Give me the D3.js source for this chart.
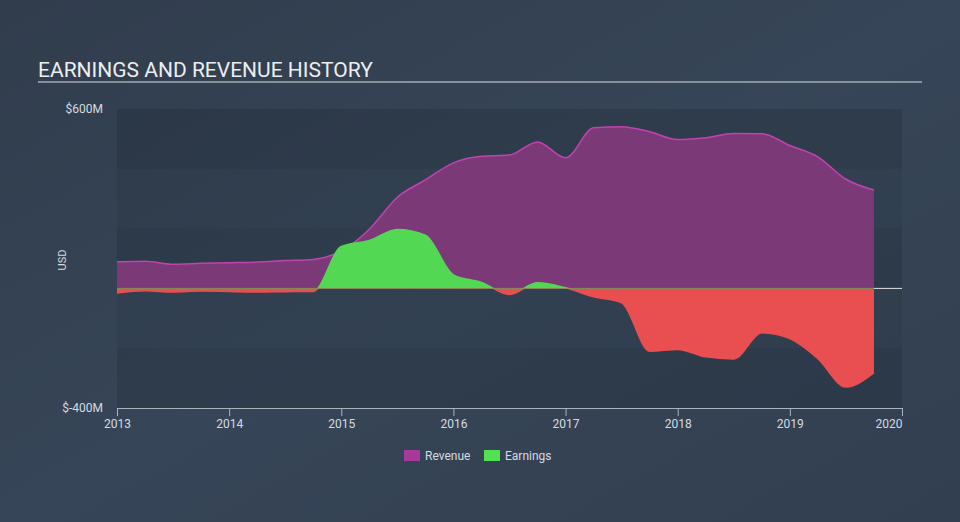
<!DOCTYPE html>
<html>
<head>
<meta charset="utf-8">
<script src="https://cdn.jsdelivr.net/npm/d3@7"></script>
<style>
  html, body { margin: 0; padding: 0; }
  body { width: 960px; height: 522px; overflow: hidden; background: #344354; font-family: Roboto, "Open Sans", sans-serif; }
</style>
</head>
<body>
<div id="chart"></div>
<script>
// quarterly dates (fractional years)
const dates = [2013.0, 2013.25, 2013.5, 2013.75, 2014.0, 2014.25, 2014.5, 2014.75,
  2015.0, 2015.25, 2015.5, 2015.75, 2016.0, 2016.25, 2016.5, 2016.75,
  2017.0, 2017.25, 2017.5, 2017.75, 2018.0, 2018.25, 2018.5, 2018.75,
  2019.0, 2019.25, 2019.5, 2019.75];
// USD millions
const revenue = [89, 91, 81, 84, 86, 88, 93, 97,
  125, 198, 305, 363, 420, 442, 446, 490,
  437, 537, 541, 524, 498, 504, 518, 517,
  478, 440, 365, 329];
const earnings = [-15, -8, -12, -9, -10, -12, -11, -10,
  140, 160, 197, 178, 45, 20, -20, 19,
  2, -28, -48, -210, -204, -229, -236, -148,
  -168, -235, -330, -282];
const yearTicks = [2013, 2014, 2015, 2016, 2017, 2018, 2019, 2020];
const yTicks = [-400, 600];
const legendItems = ['Revenue', 'Earnings'];

const width = 960, height = 522;
const margin = { top: 109, right: 58, bottom: 114, left: 117 };
const w = width - margin.left - margin.right;
const h = height - margin.top - margin.bottom;

const colors = {
  revenueLine: '#c043b1',
  revenueFill: '#7b3a77',
  earnPos: '#53d853',
  earnNeg: '#e94f50',
  legendRev: '#a8399c',
  legendEarn: '#53e053',
  text: '#d6dbe0',
  axis: '#a9b3bd'
};

const svg = d3.select('#chart').append('svg')
  .attr('width', width)
  .attr('height', height);

const defs = svg.append('defs');
const bg = defs.append('linearGradient').attr('id', 'bg')
  .attr('x1', '0').attr('x2', '1').attr('y1', '0').attr('y2', '1');
bg.append('stop').attr('offset', '0%').attr('stop-color', '#313d4d');
bg.append('stop').attr('offset', '50%').attr('stop-color', '#364557');
bg.append('stop').attr('offset', '100%').attr('stop-color', '#323f50');
svg.append('rect').attr('width', width).attr('height', height).attr('fill', 'url(#bg)');

// title
svg.append('text')
  .attr('x', 38).attr('y', 77)
  .attr('fill', '#eceef0')
  .style('font-size', '21px')
  .text('EARNINGS AND REVENUE HISTORY');
svg.append('line')
  .attr('x1', 38).attr('x2', 922).attr('y1', 82).attr('y2', 82)
  .attr('stroke', '#a3abb4').attr('stroke-width', 1.5);

const g = svg.append('g')
  .attr('transform', 'translate(' + margin.left + ',' + margin.top + ')');

const x = d3.scaleLinear().domain([2013, 2020]).range([0, w]);
const y = d3.scaleLinear().domain([-400, 600]).range([h, 0]);

// plot background and alternating bands
g.append('rect')
  .attr('width', w).attr('height', h)
  .attr('fill', 'rgba(20,30,42,0.10)');
const bandEdges = d3.range(-400, 600, 200);
g.selectAll('.band')
  .data(bandEdges.filter((d, i) => i % 2 === 0))
  .enter().append('rect')
  .attr('x', 0).attr('width', w)
  .attr('y', d => y(d + 200)).attr('height', d => y(d) - y(d + 200))
  .attr('fill', 'rgba(20,30,42,0.10)');

const data = dates.map((d, i) => ({ t: d, rev: revenue[i], earn: earnings[i] }));

const revArea = d3.area()
  .curve(d3.curveMonotoneX)
  .x(d => x(d.t)).y0(y(0)).y1(d => y(d.rev));
const revLine = d3.line()
  .curve(d3.curveMonotoneX)
  .x(d => x(d.t)).y(d => y(d.rev));
const earnArea = d3.area()
  .curve(d3.curveMonotoneX)
  .x(d => x(d.t)).y0(y(0)).y1(d => y(d.earn));
const earnLine = d3.line()
  .curve(d3.curveMonotoneX)
  .x(d => x(d.t)).y(d => y(d.earn));

g.append('path').datum(data)
  .attr('fill', colors.revenueFill)
  .attr('d', revArea);
g.append('path').datum(data)
  .attr('fill', 'none')
  .attr('stroke', colors.revenueLine)
  .attr('stroke-width', 1.5)
  .attr('d', revLine);

// clip earnings into positive and negative parts
defs.append('clipPath').attr('id', 'clipPos')
  .append('rect').attr('x', 0).attr('y', 0).attr('width', w).attr('height', y(0));
defs.append('clipPath').attr('id', 'clipNeg')
  .append('rect').attr('x', 0).attr('y', y(0)).attr('width', w).attr('height', h - y(0));

[['clipPos', colors.earnPos], ['clipNeg', colors.earnNeg]].forEach(([id, c]) => {
  const part = g.append('g').attr('clip-path', 'url(#' + id + ')');
  part.append('path').datum(data)
    .attr('fill', c)
    .attr('d', earnArea);
  part.append('path').datum(data)
    .attr('fill', 'none')
    .attr('stroke', c)
    .attr('stroke-width', 1.5)
    .attr('d', earnLine);
});

// zero line
g.append('line')
  .attr('x1', x(dates[dates.length - 1])).attr('x2', w)
  .attr('y1', y(0)).attr('y2', y(0))
  .attr('stroke', '#dfe3e8').attr('stroke-width', 1);
g.append('line')
  .attr('x1', 0).attr('x2', x(dates[dates.length - 1]))
  .attr('y1', y(0)).attr('y2', y(0))
  .attr('stroke', '#8fa860').attr('stroke-width', 1).attr('stroke-opacity', 0.6);

// x axis
const xAxis = g.append('g')
  .attr('transform', 'translate(0,' + h + ')')
  .call(d3.axisBottom(x).tickValues(yearTicks).tickFormat(d3.format('d')).tickSize(8).tickSizeOuter(0).tickPadding(3));
xAxis.select('.domain').attr('stroke', colors.axis);
xAxis.selectAll('.tick line').attr('stroke', colors.axis);
xAxis.selectAll('.tick text')
  .attr('fill', colors.text)
  .style('font-size', '12px')
  .style('font-family', 'Roboto, sans-serif')
  .attr('text-anchor', d => d === 2020 ? 'end' : 'middle');

// y axis labels
const yAxis = g.append('g')
  .call(d3.axisLeft(y).tickValues(yTicks).tickFormat(d => '$' + d + 'M').tickSize(0).tickPadding(14));
yAxis.select('.domain').remove();
yAxis.selectAll('.tick text')
  .attr('fill', colors.text)
  .style('font-size', '12px')
  .style('font-family', 'Roboto, sans-serif');

svg.append('text')
  .attr('transform', 'translate(66,260) rotate(-90)')
  .attr('text-anchor', 'middle')
  .attr('fill', colors.text)
  .style('font-size', '11px')
  .text('USD');

// legend
const legend = svg.append('g').attr('transform', 'translate(404,450)');
const lg = legend.selectAll('g').data(legendItems).enter().append('g')
  .attr('transform', (d, i) => 'translate(' + (i * 80) + ',0)');
lg.append('rect')
  .attr('width', 16).attr('height', 11)
  .attr('fill', (d, i) => i === 0 ? colors.legendRev : colors.legendEarn);
lg.append('text')
  .attr('x', 21).attr('y', 10)
  .attr('fill', colors.text)
  .style('font-size', '12px')
  .text(d => d);
</script>
</body>
</html>
